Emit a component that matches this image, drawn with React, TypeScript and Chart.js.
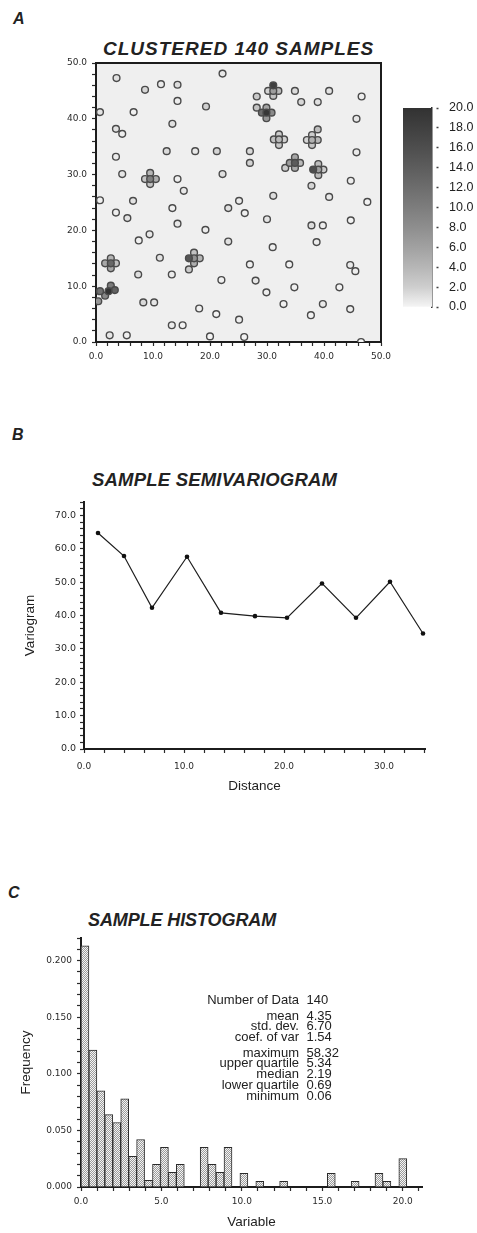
import React, { useEffect, useRef } from 'react';
import { Chart, registerables } from 'chart.js';

Chart.register(...registerables);

// ---------------- Panel A: clustered 140 samples ----------------
// isolated samples first, then the ten cross-shaped clusters
const SAMPLE_X = [
  3.6, 22.2, 8.6, 11.4, 14.3, 14.3, 19.3, 0.7, 6.6, 13.4,
  3.5, 4.6, 12.4, 17.4, 21.2, 3.5, 4.6, 22.2, 14.3, 15.4,
  0.7, 6.5, 25.1, 28.2, 28.2, 34.9, 40.9, 36.0, 38.9, 46.6,
  45.7, 27.0, 27.0, 45.7, 33.2, 37.8, 44.7, 31.1, 40.9, 47.6,
  3.5, 5.5, 13.4, 14.3, 23.2, 26.1, 30.0, 37.8, 39.8, 44.7,
  9.4, 7.5, 19.2, 23.2, 38.7, 31.0, 11.2, 27.0, 33.9, 44.6,
  45.5, 7.4, 13.3, 22.0, 28.0, 34.8, 42.7, 29.9, 8.3, 10.2,
  18.1, 21.1, 25.1, 32.9, 39.8, 37.7, 44.6, 13.3, 15.2, 2.4,
  5.4, 20.0, 26.0, 46.5, 16.3,
  9.5, 8.6, 10.5, 9.5, 9.5,
  30.2, 32.0, 31.1, 31.1, 31.1,
  29.9, 30.8, 29.9, 29.1, 29.9,
  32.1, 31.2, 33.0, 32.1, 32.1,
  38.9, 37.9, 37.0, 38.9, 37.9, 37.9,
  34.9, 34.0, 35.8, 34.9, 34.9,
  39.0, 39.9, 39.0, 39.0, 38.1,
  2.6, 1.6, 3.5, 2.6, 2.6,
  17.2, 18.2, 17.2, 17.2, 16.3,
  2.6, 3.3, 1.6, 0.4, 0.7, 2.2,
];
const SAMPLE_Y = [
  47.3, 48.1, 45.2, 46.2, 46.1, 43.2, 42.2, 41.2, 41.2, 39.1,
  38.2, 37.3, 34.2, 34.2, 34.2, 33.2, 30.1, 30.1, 29.2, 27.1,
  25.4, 25.3, 25.3, 44.0, 42.0, 45.0, 45.0, 43.0, 43.0, 44.0,
  40.0, 34.2, 32.1, 34.0, 31.2, 28.0, 28.9, 26.2, 26.0, 25.1,
  23.2, 22.2, 24.0, 21.2, 24.0, 23.1, 22.0, 20.9, 20.9, 21.8,
  19.3, 18.2, 20.1, 18.0, 17.9, 17.0, 15.1, 13.9, 13.9, 13.8,
  12.7, 12.1, 12.1, 11.1, 11.0, 9.8, 9.8, 8.9, 7.1, 7.1,
  6.0, 5.0, 4.0, 6.8, 6.8, 4.8, 5.9, 3.0, 3.0, 1.2,
  1.2, 1.0, 0.9, 0.0, 13.0,
  30.3, 29.2, 29.2, 28.3, 29.2,
  45.0, 45.0, 44.1, 45.0, 46.0,
  42.0, 41.1, 40.1, 41.1, 41.1,
  37.2, 36.3, 36.3, 35.3, 36.3,
  38.1, 37.1, 36.2, 36.2, 35.3, 36.2,
  33.1, 32.1, 32.1, 31.2, 32.1,
  31.9, 30.9, 29.9, 30.9, 30.9,
  15.0, 14.1, 14.1, 13.2, 14.1,
  16.0, 15.0, 14.1, 15.0, 15.0,
  10.1, 9.3, 8.3, 7.3, 9.1, 9.1,
];
const SAMPLE_V = [
  2.1, 1.4, 3.2, 1.1, 2.6, 0.8, 3.9, 1.7, 0.5, 2.3,
  1.9, 0.7, 2.8, 1.2, 3.4, 0.9, 1.6, 2.4, 0.6, 1.3,
  0.4, 2.0, 1.0, 4.6, 5.1, 2.7, 1.8, 3.1, 2.2, 0.9,
  1.5, 2.9, 3.6, 1.1, 4.2, 3.3, 0.8, 2.5, 1.2, 0.3,
  0.7, 1.9, 0.5, 1.4, 2.2, 0.6, 1.7, 2.6, 0.9, 0.2,
  1.3, 0.4, 0.8, 2.1, 1.0, 0.6, 1.8, 0.5, 0.3, 1.1,
  0.7, 2.4, 0.9, 0.4, 1.5, 0.6, 0.2, 0.8, 3.0, 1.6,
  0.5, 0.1, 0.7, 0.4, 1.2, 0.3, 0.6, 0.9, 0.2, 1.4,
  0.5, 0.06, 0.3, 0.1, 4.4,
  6.5, 4.8, 7.2, 5.1, 12.0,
  3.5, 6.0, 5.2, 9.0, 18.5,
  8.4, 11.0, 9.8, 14.0, 19.5,
  4.1, 5.3, 3.8, 4.6, 6.2,
  5.6, 4.2, 3.3, 6.4, 4.9, 7.1,
  8.2, 9.1, 6.3, 7.7, 15.8,
  5.9, 4.4, 6.1, 8.8, 17.2,
  6.8, 7.9, 5.5, 8.1, 14.6,
  5.2, 6.6, 7.3, 10.2, 16.4,
  12.5, 15.1, 11.3, 9.7, 13.6, 20.0,
];
const MAP_MIN = 0;
const MAP_MAX = 50;
const COLORBAR_MIN = 0;
const COLORBAR_MAX = 20;
const COLORBAR_STEP = 2;

// ---------------- Panel B: sample semivariogram ----------------
const LAG_DISTANCE = [1.4, 4.0, 6.8, 10.3, 13.7, 17.1, 20.3, 23.8, 27.2, 30.6, 33.9];
const SEMIVARIOGRAM = [64.7, 57.8, 42.3, 57.6, 40.8, 39.8, 39.3, 49.6, 39.3, 50.1, 34.6];

// ---------------- Panel C: sample histogram ----------------
const BIN_WIDTH = 0.494;
const BIN_FREQUENCY = [
  0.213, 0.121, 0.085, 0.064, 0.057, 0.078, 0.027, 0.042, 0.006, 0.020,
  0.035, 0.013, 0.020, 0, 0, 0.035, 0.020, 0.013, 0.035, 0,
  0.012, 0, 0.005, 0, 0, 0.005, 0, 0, 0, 0,
  0, 0.012, 0, 0, 0.005, 0, 0, 0.012, 0.005, 0,
  0.025,
];
const STAT_LABELS = ['Number of Data', 'mean', 'std. dev.', 'coef. of var', 'maximum', 'upper quartile', 'median', 'lower quartile', 'minimum'];
const STAT_VALUES = ['140', '4.35', '6.70', '1.54', '58.32', '5.34', '2.19', '0.69', '0.06'];

// ---------------- styling helpers ----------------
const TEXT_FONT = '"Liberation Sans", Arial, Helvetica, sans-serif';
const TICK_FONT = '"DejaVu Sans", sans-serif';
const INK = '#222';
const STAT_ROW_CENTER = [999, 1015, 1025.5, 1036, 1052, 1062.7, 1073.5, 1084.3, 1095];

function gray(v: number, power = 0.7): string {
  const t = Math.max(0, Math.min(1, v / COLORBAR_MAX));
  const g = Math.round(245 - 195 * Math.pow(t, power));
  return `rgb(${g},${g},${g})`;
}
const pointFill = (v: number) => gray(v, 1.0);

const fixedV = (w: number) => (s: any) => {
  s.width = w;
  s.paddingTop = 0;
  s.paddingBottom = 0;
};
const fixedH = (h: number) => (s: any) => {
  s.height = h;
  s.paddingLeft = 0;
  s.paddingRight = 0;
};
const every = (major: number, digits: number) => (v: any) => {
  const n = Number(v);
  return Math.abs(n / major - Math.round(n / major)) < 1e-6 ? n.toFixed(digits) : '';
};

function axis(o: any) {
  return {
    type: 'linear',
    position: o.position,
    min: o.min,
    max: o.max,
    offset: false,
    afterFit: o.fit,
    border: { display: true, color: '#1c1c1c', width: 2 },
    grid: {
      drawOnChartArea: false,
      drawTicks: true,
      offset: false,
      tickLength: o.tick,
      tickColor: '#2a2a2a',
      tickWidth: 1.2,
    },
    ticks: {
      stepSize: o.step,
      includeBounds: false,
      autoSkip: false,
      maxRotation: 0,
      minRotation: 0,
      padding: o.pad,
      color: '#2a2a2a',
      font: { family: TICK_FONT, size: o.size },
      callback: every(o.major, o.digits),
    },
    title: o.title
      ? { display: true, text: o.title, color: INK, padding: 0, font: { family: TEXT_FONT, size: 13.5 } }
      : { display: false },
  };
}

const baseOptions = {
  animation: false,
  responsive: false,
  maintainAspectRatio: false,
  events: [],
  plugins: { legend: { display: false }, tooltip: { enabled: false }, title: { display: false } },
};

const framePlugin = {
  id: 'mapFrame',
  beforeDraw(chart: any) {
    const { ctx, chartArea: a } = chart;
    ctx.save();
    ctx.fillStyle = '#efefef';
    ctx.fillRect(a.left, a.top, a.right - a.left, a.bottom - a.top);
    ctx.restore();
  },
  afterDraw(chart: any) {
    const { ctx, chartArea: a } = chart;
    ctx.save();
    ctx.strokeStyle = '#1c1c1c';
    ctx.lineWidth = 2;
    ctx.beginPath();
    ctx.moveTo(a.left, a.top);
    ctx.lineTo(a.right, a.top);
    ctx.lineTo(a.right, a.bottom);
    ctx.stroke();
    ctx.restore();
  },
};

function stipple(): any {
  const c = document.createElement('canvas');
  c.width = 2;
  c.height = 2;
  const g = c.getContext('2d');
  if (!g) return '#cccccc';
  g.fillStyle = '#f4f4f4';
  g.fillRect(0, 0, 2, 2);
  g.fillStyle = '#9c9c9c';
  g.fillRect(0, 0, 1, 1);
  g.fillRect(1, 1, 1, 1);
  return g.createPattern(c, 'repeat') || '#cccccc';
}

// ---------------- chart builders ----------------
function buildMap(canvas: HTMLCanvasElement) {
  return new Chart(canvas, {
    type: 'scatter',
    data: {
      datasets: [
        {
          data: SAMPLE_X.map((x, i) => ({ x, y: SAMPLE_Y[i] })),
          pointRadius: 3.4,
          pointBorderWidth: 1.4,
          pointBorderColor: '#4a4a4a',
          pointBackgroundColor: SAMPLE_V.map(pointFill),
          clip: 0,
        },
      ],
    },
    options: {
      ...baseOptions,
      layout: { padding: { left: 56, top: 33, right: 14, bottom: 11 } },
      scales: {
        x: axis({ position: 'bottom', min: MAP_MIN, max: MAP_MAX, step: 2, major: 10, digits: 1, tick: 4, pad: 5, size: 9, fit: fixedH(22) }),
        y: axis({ position: 'left', min: MAP_MIN, max: MAP_MAX, step: 2, major: 10, digits: 1, tick: 4, pad: 5, size: 9, fit: fixedV(40) }),
      },
    } as any,
    plugins: [framePlugin],
  } as any);
}

function buildColorbar(canvas: HTMLCanvasElement) {
  return new Chart(canvas, {
    type: 'bar',
    data: {
      labels: ['value'],
      datasets: [
        {
          data: [[COLORBAR_MIN, COLORBAR_MAX]],
          barPercentage: 1,
          categoryPercentage: 1,
          borderWidth: 0,
          backgroundColor: (c: any) => {
            const ch = c.chart;
            if (!ch.chartArea) return '#888';
            const ys = ch.scales.y;
            const y0 = ys.getPixelForValue(COLORBAR_MIN);
            const y1 = ys.getPixelForValue(COLORBAR_MAX);
            const g = ch.ctx.createLinearGradient(0, y0, 0, y1);
            for (let v = COLORBAR_MIN; v <= COLORBAR_MAX; v += COLORBAR_STEP) {
              g.addColorStop((v - COLORBAR_MIN) / (COLORBAR_MAX - COLORBAR_MIN), gray(v));
            }
            return g;
          },
        },
      ],
    },
    options: {
      ...baseOptions,
      layout: { padding: { left: 8, top: 18, right: 0, bottom: 18 } },
      scales: {
        x: { display: false },
        y: {
          type: 'linear',
          position: 'right',
          min: COLORBAR_MIN,
          max: COLORBAR_MAX,
          afterFit: fixedV(45),
          border: { display: true, color: '#333', width: 1.5 },
          grid: {
            drawOnChartArea: false,
            tickLength: 7,
            tickColor: '#444',
            tickWidth: 1.5,
            tickBorderDash: [0, 4, 2, 20],
          },
          ticks: {
            stepSize: COLORBAR_STEP,
            autoSkip: false,
            padding: 10,
            color: INK,
            font: { family: TEXT_FONT, size: 12.5 },
            callback: (v: any) => Number(v).toFixed(1),
          },
        },
      },
    } as any,
  } as any);
}

function buildVariogram(canvas: HTMLCanvasElement) {
  return new Chart(canvas, {
    type: 'line',
    data: {
      datasets: [
        {
          data: LAG_DISTANCE.map((x, i) => ({ x, y: SEMIVARIOGRAM[i] })),
          borderColor: '#1e1e1e',
          borderWidth: 1.2,
          pointRadius: 2.3,
          pointBorderWidth: 0,
          pointBackgroundColor: '#111',
          tension: 0,
          fill: false,
          clip: false,
        },
      ],
    },
    options: {
      ...baseOptions,
      layout: { padding: { left: 21.9, top: 12, right: 52, bottom: 5.9 } },
      scales: {
        x: axis({ position: 'bottom', min: 0, max: 34.1, step: 2, major: 10, digits: 1, tick: 4, pad: 8, size: 9, fit: fixedH(45.1), title: 'Distance' }),
        y: axis({ position: 'left', min: 0, max: 74, step: 2, major: 10, digits: 1, tick: 4, pad: 4, size: 9.5, fit: fixedV(62.1), title: 'Variogram' }),
      },
    } as any,
  } as any);
}

function buildHistogram(canvas: HTMLCanvasElement) {
  return new Chart(canvas, {
    type: 'bar',
    data: {
      datasets: [
        {
          data: BIN_FREQUENCY.map((y, i) => ({ x: (i + 0.5) * BIN_WIDTH, y })),
          backgroundColor: stipple(),
          borderColor: '#2a2a2a',
          borderWidth: 1,
          borderSkipped: 'start',
          barPercentage: 1,
          categoryPercentage: 1,
          grouped: false,
        },
      ],
    },
    options: {
      ...baseOptions,
      layout: { padding: { left: 18.4, top: 13, right: 55, bottom: 4.9 } },
      scales: {
        x: axis({ position: 'bottom', min: 0, max: 21.2, step: 1, major: 5, digits: 1, tick: 4, pad: 5, size: 9, fit: fixedH(43.1), title: 'Variable' }),
        y: axis({ position: 'left', min: 0, max: 0.22, step: 0.01, major: 0.05, digits: 3, tick: 4, pad: 5, size: 9, fit: fixedV(62.6), title: 'Frequency' }),
      },
    } as any,
  } as any);
}

// ---------------- components ----------------
function ChartCanvas(props: { left: number; top: number; width: number; height: number; build: (c: HTMLCanvasElement) => Chart }) {
  const ref = useRef<HTMLCanvasElement>(null);
  const { left, top, width, height, build } = props;
  useEffect(() => {
    if (!ref.current) return;
    const chart = build(ref.current);
    return () => chart.destroy();
  }, []);
  return (
    <canvas
      ref={ref}
      width={width}
      height={height}
      style={{ position: 'absolute', left, top, width, height, display: 'block' }}
    />
  );
}

function Text(props: { text: string; left?: number; right?: number; top: number; size: number; bold?: boolean; italic?: boolean; ls?: number; align?: 'left' | 'right' }) {
  const { text, left, right, top, size, bold, italic, ls, align } = props;
  return (
    <div
      style={{
        position: 'absolute',
        left,
        right,
        top,
        fontFamily: TEXT_FONT,
        fontSize: size,
        lineHeight: `${size}px`,
        fontWeight: bold ? 700 : 400,
        fontStyle: italic ? 'italic' : 'normal',
        letterSpacing: ls ?? 0,
        whiteSpace: 'nowrap',
        textAlign: align ?? 'left',
        color: INK,
      }}
    >
      {text}
    </div>
  );
}

export default function App() {
  return (
    <div style={{ position: 'absolute', left: 0, top: 0, width: 477, height: 1233, background: '#fff', overflow: 'hidden' }}>
      {/* Panel A */}
      <Text text="A" left={13} top={11.2} size={16} bold italic />
      <Text text="CLUSTERED 140 SAMPLES" left={103} top={39.2} size={19} bold italic ls={1.0} />
      <ChartCanvas left={0} top={30} width={395} height={345} build={buildMap} />
      <ChartCanvas left={395} top={90} width={82} height={235} build={buildColorbar} />

      {/* Panel B */}
      <Text text="B" left={12} top={427.2} size={16} bold italic />
      <Text text="SAMPLE SEMIVARIOGRAM" left={92} top={470.9} size={18.5} bold italic ls={0.2} />
      <ChartCanvas left={0} top={490} width={477} height={310} build={buildVariogram} />

      {/* Panel C */}
      <Text text="C" left={8} top={884.7} size={16} bold italic />
      <Text text="SAMPLE HISTOGRAM" left={88} top={911.2} size={18} bold italic ls={-0.1} />
      <ChartCanvas left={0} top={925} width={477} height={310} build={buildHistogram} />
      {STAT_LABELS.map((label, i) => (
        <React.Fragment key={label}>
          <Text text={label} right={477 - 299} top={STAT_ROW_CENTER[i] - 6.4} size={13} align="right" />
          <Text text={STAT_VALUES[i]} left={306.5} top={STAT_ROW_CENTER[i] - 6.4} size={13} />
        </React.Fragment>
      ))}
    </div>
  );
}
